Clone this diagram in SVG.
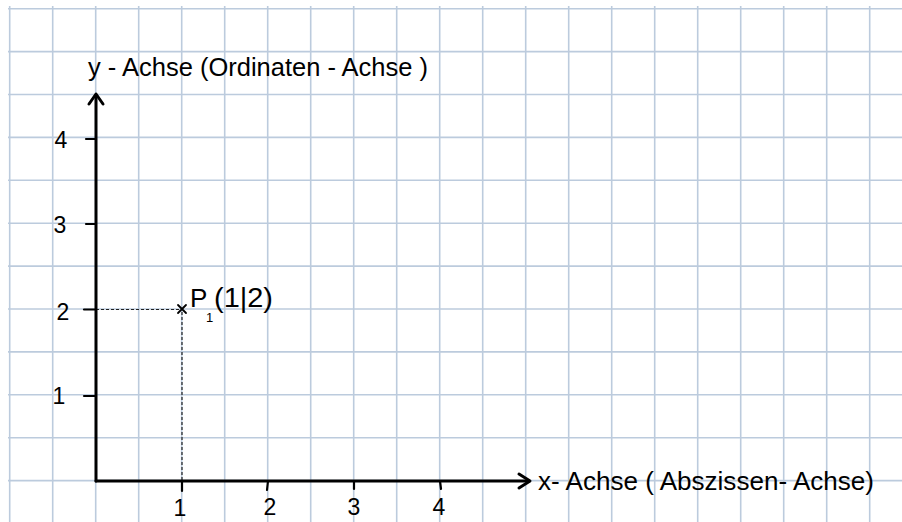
<svg xmlns="http://www.w3.org/2000/svg" width="902" height="522" viewBox="0 0 902 522">
<style>
.grid line{stroke:#bccbdd;stroke-width:1.6}
.axis{stroke:#000;stroke-width:3;fill:none;stroke-linecap:round;stroke-linejoin:round}
.tick{stroke:#000;stroke-width:2.2;stroke-linecap:round}
.dot{stroke:#222;stroke-width:1.2;stroke-dasharray:3 2;fill:none}
text{font-family:"Liberation Sans","DejaVu Sans",sans-serif;fill:#000}
.lbl{font-size:26px}
.num{font-size:23px}
</style>
<rect width="902" height="522" fill="#fff"/>
<g class="grid">
<line x1="9.7" y1="6" x2="9.7" y2="522"/><line x1="52.7" y1="6" x2="52.7" y2="522"/><line x1="95.7" y1="6" x2="95.7" y2="522"/><line x1="138.7" y1="6" x2="138.7" y2="522"/><line x1="181.7" y1="6" x2="181.7" y2="522"/><line x1="224.7" y1="6" x2="224.7" y2="522"/><line x1="267.7" y1="6" x2="267.7" y2="522"/><line x1="310.7" y1="6" x2="310.7" y2="522"/><line x1="353.7" y1="6" x2="353.7" y2="522"/><line x1="396.7" y1="6" x2="396.7" y2="522"/><line x1="439.7" y1="6" x2="439.7" y2="522"/><line x1="482.7" y1="6" x2="482.7" y2="522"/><line x1="525.7" y1="6" x2="525.7" y2="522"/><line x1="568.7" y1="6" x2="568.7" y2="522"/><line x1="611.7" y1="6" x2="611.7" y2="522"/><line x1="654.7" y1="6" x2="654.7" y2="522"/><line x1="697.7" y1="6" x2="697.7" y2="522"/><line x1="740.7" y1="6" x2="740.7" y2="522"/><line x1="783.7" y1="6" x2="783.7" y2="522"/><line x1="826.7" y1="6" x2="826.7" y2="522"/><line x1="869.7" y1="6" x2="869.7" y2="522"/>
<line x1="8" y1="8.7" x2="902" y2="8.7"/><line x1="8" y1="51.6" x2="902" y2="51.6"/><line x1="8" y1="94.5" x2="902" y2="94.5"/><line x1="8" y1="137.4" x2="902" y2="137.4"/><line x1="8" y1="180.3" x2="902" y2="180.3"/><line x1="8" y1="223.2" x2="902" y2="223.2"/><line x1="8" y1="266.1" x2="902" y2="266.1"/><line x1="8" y1="309" x2="902" y2="309"/><line x1="8" y1="351.9" x2="902" y2="351.9"/><line x1="8" y1="394.8" x2="902" y2="394.8"/><line x1="8" y1="437.7" x2="902" y2="437.7"/><line x1="8" y1="480.6" x2="902" y2="480.6"/>
</g>
<g id="dotted">
<path class="dot" d="M96 309.5 H182 M182 312 V480"/>
</g>
<g id="axes">
<path class="axis" d="M96 481 V95"/>
<path class="axis" d="M89 104 L96 94 L103 104"/>
<path class="axis" d="M96 481 H529"/>
<path class="axis" d="M519 474 L530 481 L519 488"/>
</g>
<g id="ticks">
<line class="tick" x1="86" y1="139" x2="96" y2="139"/>
<line class="tick" x1="86" y1="224" x2="96" y2="224"/>
<line class="tick" x1="84" y1="309.5" x2="96" y2="309.5"/>
<line class="tick" x1="84" y1="396" x2="96" y2="396"/>
<line class="tick" x1="182" y1="481" x2="182" y2="491"/>
<line class="tick" x1="268" y1="481" x2="267" y2="490"/>
<line class="tick" x1="354" y1="481" x2="354" y2="489"/>
<line class="tick" x1="440" y1="481" x2="441" y2="489"/>
</g>
<g id="y-labels">
<text class="num" x="61" y="148" text-anchor="middle">4</text>
<text class="num" x="60" y="233" text-anchor="middle">3</text>
<text class="num" x="63" y="320" text-anchor="middle">2</text>
<text class="num" x="59" y="404" text-anchor="middle">1</text>
</g>
<g id="x-labels">
<text class="num" x="180" y="516" text-anchor="middle">1</text>
<text class="num" x="270" y="515" text-anchor="middle">2</text>
<text class="num" x="354" y="515" text-anchor="middle">3</text>
<text class="num" x="439" y="515" text-anchor="middle">4</text>
</g>
<g id="point-P1">
<path d="M178 305 L186 313 M186 305 L178 313" stroke="#000" stroke-width="1.8" stroke-linecap="round"/>
<text x="190" y="307" font-size="26">P</text>
<text x="206" y="322" font-size="13">1</text>
<text x="214" y="307" font-size="27" textLength="59" lengthAdjust="spacingAndGlyphs">(1|2)</text>
</g>
<g id="y-axis-label">
<text class="lbl" x="88" y="76" textLength="340" lengthAdjust="spacingAndGlyphs">y - Achse  (Ordinaten - Achse )</text>
</g>
<g id="x-axis-label">
<text x="538" y="490" font-size="26" textLength="336" lengthAdjust="spacingAndGlyphs">x- Achse  ( Abszissen- Achse)</text>
</g>
</svg>
